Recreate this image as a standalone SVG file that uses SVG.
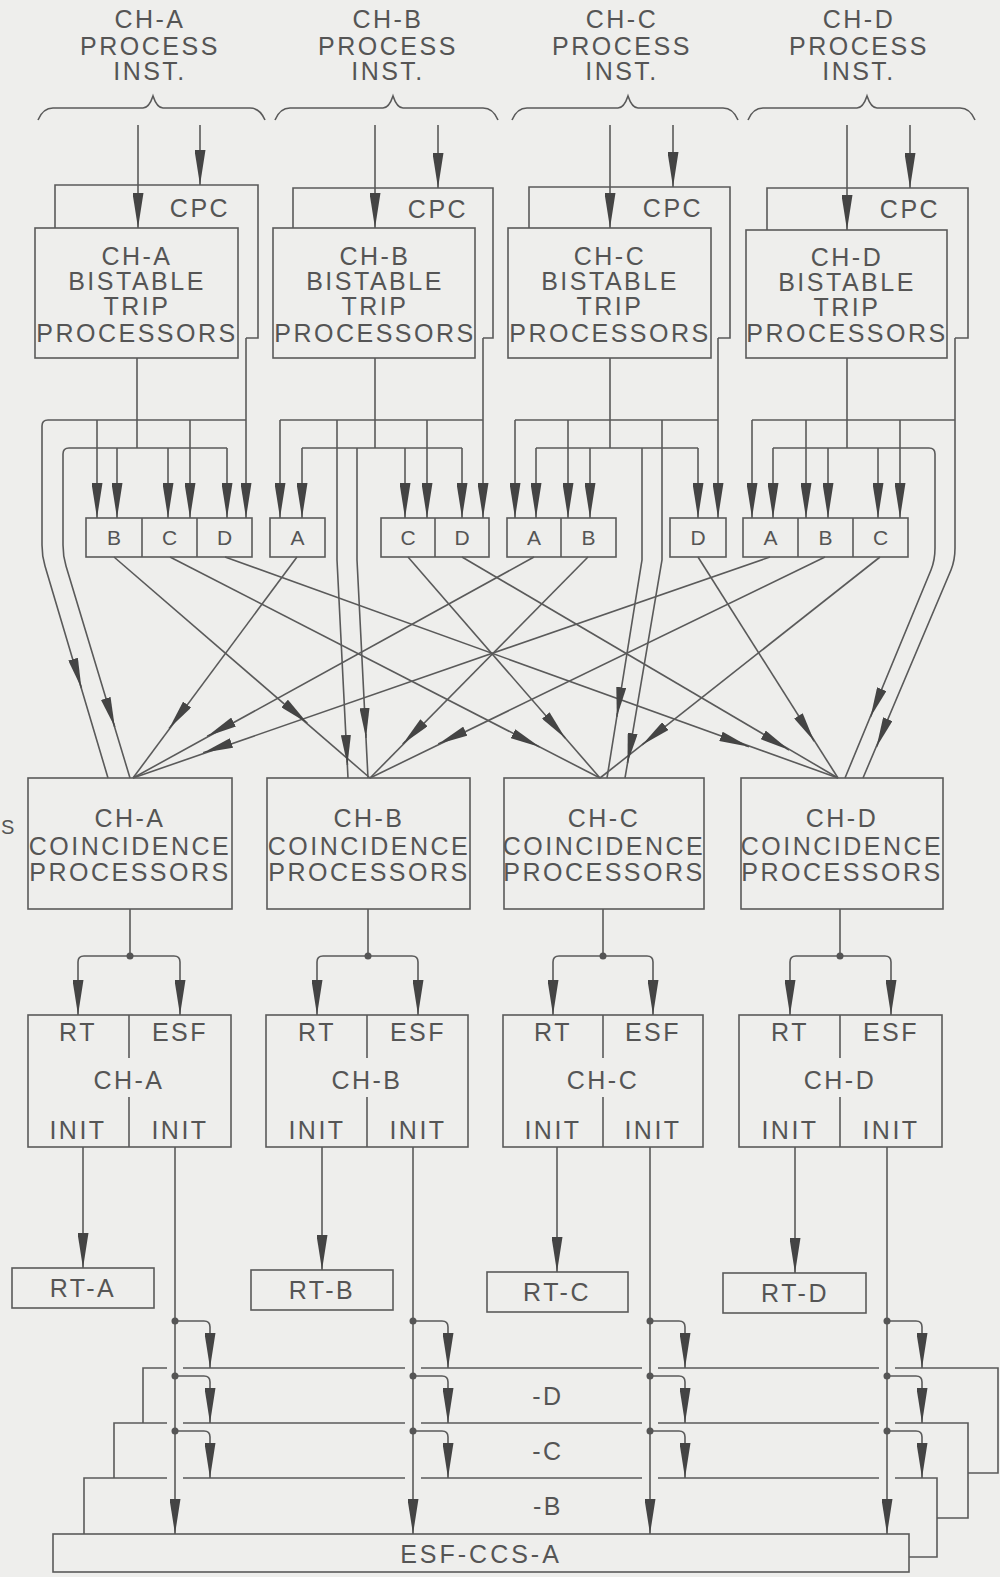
<svg xmlns="http://www.w3.org/2000/svg" width="1000" height="1577" viewBox="0 0 1000 1577">
<defs>
<style>
.ln{fill:none;stroke:#5a5a5a;stroke-width:1.6}
.bx{fill:#eeeeec;stroke:#5a5a5a;stroke-width:1.6}
.t{font-family:"Liberation Sans",Arial,sans-serif;font-size:25px;fill:#555;letter-spacing:2.5px;text-anchor:middle}
.s{font-size:21px;letter-spacing:0}
.a{marker-end:url(#ah)}
.m{marker-end:url(#am)}
.dot{fill:#555}
</style>
<marker id="ah" viewBox="0 0 35 11" refX="35" refY="5.5" markerWidth="35" markerHeight="11" markerUnits="userSpaceOnUse" orient="auto"><path d="M0,0 L35,5.5 L0,11 Z" fill="#444"/></marker>
<marker id="am" viewBox="0 0 30 10" refX="30" refY="5" markerWidth="30" markerHeight="10" markerUnits="userSpaceOnUse" orient="auto"><path d="M0,0 L30,5 L0,10 Z" fill="#444"/></marker>
</defs>
<rect width="1000" height="1577" fill="#eeeeec"/>

<g id="title-a"><text class="t" x="150" y="28">CH-A</text><text class="t" x="150" y="55">PROCESS</text><text class="t" x="150" y="80">INST.</text><path class="ln" d="M38,120 Q43,108 53,108 L143,108 Q149,108 153,96 Q157,108 163,108 L250,108 Q260,108 265,120"/></g>
<g id="title-b"><text class="t" x="388" y="28">CH-B</text><text class="t" x="388" y="55">PROCESS</text><text class="t" x="388" y="80">INST.</text><path class="ln" d="M275,120 Q280,108 290,108 L383,108 Q389,108 393,96 Q397,108 403,108 L483,108 Q493,108 498,120"/></g>
<g id="title-c"><text class="t" x="622" y="28">CH-C</text><text class="t" x="622" y="55">PROCESS</text><text class="t" x="622" y="80">INST.</text><path class="ln" d="M512,120 Q517,108 527,108 L618,108 Q624,108 628,96 Q632,108 638,108 L723,108 Q733,108 738,120"/></g>
<g id="title-d"><text class="t" x="859" y="28">CH-D</text><text class="t" x="859" y="55">PROCESS</text><text class="t" x="859" y="80">INST.</text><path class="ln" d="M748,120 Q753,108 763,108 L857,108 Q863,108 867,96 Q871,108 877,108 L960,108 Q970,108 975,120"/></g>

<g id="cpc-a"><path class="ln" d="M246,338 L258,338 L258,185 L55,185 L55,228"/><text class="t" x="200" y="217">CPC</text></g>
<g id="cpc-b"><path class="ln" d="M483,338 L493,338 L493,188 L293,188 L293,228"/><text class="t" x="438" y="218">CPC</text></g>
<g id="cpc-c"><path class="ln" d="M718,338 L730,338 L730,187 L529,187 L529,228"/><text class="t" x="673" y="217">CPC</text></g>
<g id="cpc-d"><path class="ln" d="M955,338 L968,338 L968,188 L767,188 L767,230"/><text class="t" x="910" y="218">CPC</text></g>

<g id="bistable-a"><rect class="bx" x="35" y="228" width="203" height="130"/><text class="t" x="137" y="265">CH-A</text><text class="t" x="137" y="290">BISTABLE</text><text class="t" x="137" y="315">TRIP</text><text class="t" x="137" y="342">PROCESSORS</text></g>
<g id="bistable-b"><rect class="bx" x="273" y="228" width="202" height="130"/><text class="t" x="375" y="265">CH-B</text><text class="t" x="375" y="290">BISTABLE</text><text class="t" x="375" y="315">TRIP</text><text class="t" x="375" y="342">PROCESSORS</text></g>
<g id="bistable-c"><rect class="bx" x="508" y="228" width="203" height="130"/><text class="t" x="610" y="265">CH-C</text><text class="t" x="610" y="290">BISTABLE</text><text class="t" x="610" y="315">TRIP</text><text class="t" x="610" y="342">PROCESSORS</text></g>
<g id="bistable-d"><rect class="bx" x="746" y="230" width="201" height="128"/><text class="t" x="847" y="266">CH-D</text><text class="t" x="847" y="291">BISTABLE</text><text class="t" x="847" y="316">TRIP</text><text class="t" x="847" y="342">PROCESSORS</text></g>

<g id="xfer-a"><rect class="bx" x="86" y="518" width="166" height="39"/><path class="ln" d="M142,518 V557 M197,518 V557"/><text class="t s" x="114" y="545">B</text><text class="t s" x="169.5" y="545">C</text><text class="t s" x="224.5" y="545">D</text></g>
<g id="xfer-b"><rect class="bx" x="270" y="518" width="55" height="39"/><text class="t s" x="297.5" y="545">A</text><rect class="bx" x="381" y="518" width="108" height="39"/><path class="ln" d="M435,518 V557"/><text class="t s" x="408" y="545">C</text><text class="t s" x="462" y="545">D</text></g>
<g id="xfer-c"><rect class="bx" x="507" y="518" width="109" height="39"/><path class="ln" d="M561,518 V557"/><text class="t s" x="534" y="545">A</text><text class="t s" x="588.5" y="545">B</text><rect class="bx" x="670" y="518" width="56" height="39"/><text class="t s" x="698" y="545">D</text></g>
<g id="xfer-d"><rect class="bx" x="743" y="518" width="165" height="39"/><path class="ln" d="M798,518 V557 M853,518 V557"/><text class="t s" x="770.5" y="545">A</text><text class="t s" x="825.5" y="545">B</text><text class="t s" x="880.5" y="545">C</text></g>

<g id="coinc-a"><rect class="bx" x="28" y="778" width="204" height="131"/><text class="t" x="130" y="827">CH-A</text><text class="t" x="130" y="855">COINCIDENCE</text><text class="t" x="130" y="881">PROCESSORS</text></g>
<g id="coinc-b"><rect class="bx" x="267" y="778" width="203" height="131"/><text class="t" x="369" y="827">CH-B</text><text class="t" x="369" y="855">COINCIDENCE</text><text class="t" x="369" y="881">PROCESSORS</text></g>
<g id="coinc-c"><rect class="bx" x="504" y="778" width="200" height="131"/><text class="t" x="604" y="827">CH-C</text><text class="t" x="604" y="855">COINCIDENCE</text><text class="t" x="604" y="881">PROCESSORS</text></g>
<g id="coinc-d"><rect class="bx" x="741" y="778" width="202" height="131"/><text class="t" x="842" y="827">CH-D</text><text class="t" x="842" y="855">COINCIDENCE</text><text class="t" x="842" y="881">PROCESSORS</text></g>

<g id="init-a"><rect class="bx" x="28" y="1015" width="203" height="132"/><path class="ln" d="M129,1015 V1058 M129,1097 V1147"/><text class="t" x="78" y="1041">RT</text><text class="t" x="180" y="1041">ESF</text><text class="t" x="129" y="1089">CH-A</text><text class="t" x="78" y="1139">INIT</text><text class="t" x="180" y="1139">INIT</text></g>
<g id="init-b"><rect class="bx" x="266" y="1015" width="202" height="132"/><path class="ln" d="M367,1015 V1058 M367,1097 V1147"/><text class="t" x="317" y="1041">RT</text><text class="t" x="418" y="1041">ESF</text><text class="t" x="367" y="1089">CH-B</text><text class="t" x="317" y="1139">INIT</text><text class="t" x="418" y="1139">INIT</text></g>
<g id="init-c"><rect class="bx" x="503" y="1015" width="200" height="132"/><path class="ln" d="M603,1015 V1058 M603,1097 V1147"/><text class="t" x="553" y="1041">RT</text><text class="t" x="653" y="1041">ESF</text><text class="t" x="603" y="1089">CH-C</text><text class="t" x="553" y="1139">INIT</text><text class="t" x="653" y="1139">INIT</text></g>
<g id="init-d"><rect class="bx" x="739" y="1015" width="203" height="132"/><path class="ln" d="M840,1015 V1058 M840,1097 V1147"/><text class="t" x="790" y="1041">RT</text><text class="t" x="891" y="1041">ESF</text><text class="t" x="840" y="1089">CH-D</text><text class="t" x="790" y="1139">INIT</text><text class="t" x="891" y="1139">INIT</text></g>

<g id="rt-a"><rect class="bx" x="12" y="1268" width="142" height="40"/><text class="t" x="83" y="1297">RT-A</text></g>
<g id="rt-b"><rect class="bx" x="251" y="1270" width="142" height="40"/><text class="t" x="322" y="1299">RT-B</text></g>
<g id="rt-c"><rect class="bx" x="487" y="1272" width="141" height="40"/><text class="t" x="557" y="1301">RT-C</text></g>
<g id="rt-d"><rect class="bx" x="723" y="1273" width="143" height="40"/><text class="t" x="795" y="1302">RT-D</text></g>

<g id="esfccs-d"><path class="ln" d="M143,1423 L143,1368 L167,1368 M183,1368 L405,1368 M421,1368 L642,1368 M658,1368 L879,1368 M895,1368 L998,1368 L998,1473 L968,1473"/><text class="t" x="548" y="1405">-D</text></g>
<g id="esfccs-c"><path class="ln" d="M114,1478 L114,1423 L167,1423 M183,1423 L405,1423 M421,1423 L642,1423 M658,1423 L879,1423 M895,1423 L968,1423 L968,1518 L937,1518"/><text class="t" x="548" y="1460">-C</text></g>
<g id="esfccs-b"><path class="ln" d="M84,1534 L84,1478 L167,1478 M183,1478 L405,1478 M421,1478 L642,1478 M658,1478 L879,1478 M895,1478 L937,1478 L937,1557 L909,1557"/><text class="t" x="548" y="1515">-B</text></g>
<g id="esfccs-a"><rect class="bx" x="53" y="1534" width="856" height="38"/><text class="t" x="481" y="1563" style="letter-spacing:3px">ESF-CCS-A</text></g>

<text class="t" x="1" y="834" style="text-anchor:start;font-size:20px;letter-spacing:0">S</text>

<g id="connectors">
<path class="ln a" d="M138,125 L138,228"/><path class="ln a" d="M200,125 L200,185"/>
<path class="ln a" d="M375,125 L375,228"/><path class="ln a" d="M438,125 L438,188"/>
<path class="ln a" d="M610,125 L610,228"/><path class="ln a" d="M673,125 L673,187"/>
<path class="ln a" d="M847,125 L847,230"/><path class="ln a" d="M910,125 L910,188"/>

<path class="ln a" d="M246,338 L246,518"/>
<path class="ln a" d="M483,338 L483,518"/>
<path class="ln a" d="M718,338 L718,518"/>
<path class="ln" d="M955,338 L955,548 Q955,560 951,570 L863,778"/>

<path class="ln" d="M137,358 V448 M375,358 V448 M610,358 V448 M847,358 V448"/>

<path class="ln" d="M246,420 L48,420 Q42,420 42,426 L42,545 Q42,556 45,566 L108,778"/>
<path class="ln a" d="M97,420 L97,518"/><path class="ln a" d="M190,420 L190,518"/>
<path class="ln" d="M227,448 L69,448 Q63,448 63,454 L63,545 Q63,556 66,566 L130,778"/>
<path class="ln a" d="M117,448 L117,518"/><path class="ln a" d="M168,448 L168,518"/><path class="ln a" d="M227,448 L227,518"/>

<path class="ln" d="M280,420 L483,420"/>
<path class="ln a" d="M280,420 L280,518"/><path class="ln a" d="M427,420 L427,518"/>
<path class="ln" d="M337,420 L337,560 L348,778"/>
<path class="ln" d="M302,448 L462,448"/>
<path class="ln a" d="M302,448 L302,518"/><path class="ln a" d="M405,448 L405,518"/><path class="ln a" d="M462,448 L462,518"/>
<path class="ln" d="M357,448 L357,560 L368,778"/>

<path class="ln" d="M515,420 L718,420"/>
<path class="ln a" d="M515,420 L515,518"/><path class="ln a" d="M568,420 L568,518"/>
<path class="ln" d="M662,420 L662,560 L625,778"/>
<path class="ln" d="M536,448 L698,448"/>
<path class="ln a" d="M536,448 L536,518"/><path class="ln a" d="M590,448 L590,518"/><path class="ln a" d="M698,448 L698,518"/>
<path class="ln" d="M642,448 L642,560 L607,778"/>

<path class="ln" d="M752,420 L955,420"/>
<path class="ln a" d="M752,420 L752,518"/><path class="ln a" d="M806,420 L806,518"/><path class="ln a" d="M900,420 L900,518"/>
<path class="ln" d="M773,448 L929,448 Q935,448 935,454 L935,548 Q935,560 931,570 L845,778"/>
<path class="ln a" d="M773,448 L773,518"/><path class="ln a" d="M828,448 L828,518"/><path class="ln a" d="M878,448 L878,518"/>

<path class="ln" d="M114,557 L370,778"/>
<path class="ln" d="M170,557 L600,778"/>
<path class="ln" d="M225,557 L838,778"/>
<path class="ln" d="M297,557 L133,778"/>
<path class="ln" d="M408,557 L600,778"/>
<path class="ln" d="M462,557 L838,778"/>
<path class="ln" d="M534,557 L133,778"/>
<path class="ln" d="M588,557 L370,778"/>
<path class="ln" d="M698,557 L838,778"/>
<path class="ln" d="M770,557 L133,778"/>
<path class="ln" d="M825,557 L370,778"/>
<path class="ln" d="M880,557 L600,778"/>

<path class="ln m" d="M304.3,720.5 L307.3,723.1"/>
<path class="ln m" d="M536.2,745.3 L539.8,747.1"/>
<path class="ln m" d="M745.3,745.4 L749.1,746.8"/>
<path class="ln m" d="M171.5,725.4 L169.1,728.6"/>
<path class="ln m" d="M562.8,735.2 L565.4,738.2"/>
<path class="ln m" d="M785.7,748.1 L789.1,750.1"/>
<path class="ln m" d="M210.7,734.4 L207.2,736.3"/>
<path class="ln m" d="M405.5,741.2 L402.7,744"/>
<path class="ln m" d="M812.1,737.9 L814.2,741.3"/>
<path class="ln m" d="M206.9,751.5 L203.1,752.8"/>
<path class="ln m" d="M441.8,742.3 L438.2,744"/>
<path class="ln m" d="M645.1,742.4 L642,744.9"/>

<path class="ln m" d="M80.3,684.2 L81.4,688"/>
<path class="ln m" d="M113.6,723.2 L114.8,727"/>
<path class="ln m" d="M347.2,761 L347.4,765"/>
<path class="ln m" d="M365.8,734 L366,738"/>
<path class="ln m" d="M617.4,713 L616.8,717"/>
<path class="ln m" d="M628.2,759 L627.5,763"/>
<path class="ln m" d="M872,713.3 L870.5,717"/>
<path class="ln m" d="M878,743.3 L876.5,747"/>

<path class="ln" d="M130,909 L130,956"/>
<path class="ln a" d="M130,956 L84,956 Q78,956 78,962 L78,1015"/>
<path class="ln a" d="M130,956 L174,956 Q180,956 180,962 L180,1015"/>
<path class="ln" d="M368,909 L368,956"/>
<path class="ln a" d="M368,956 L323,956 Q317,956 317,962 L317,1015"/>
<path class="ln a" d="M368,956 L412,956 Q418,956 418,962 L418,1015"/>
<path class="ln" d="M603,909 L603,956"/>
<path class="ln a" d="M603,956 L559,956 Q553,956 553,962 L553,1015"/>
<path class="ln a" d="M603,956 L647,956 Q653,956 653,962 L653,1015"/>
<path class="ln" d="M840,909 L840,956"/>
<path class="ln a" d="M840,956 L796,956 Q790,956 790,962 L790,1015"/>
<path class="ln a" d="M840,956 L885,956 Q891,956 891,962 L891,1015"/>
<circle class="dot" cx="130" cy="956" r="3.5"/><circle class="dot" cx="368" cy="956" r="3.5"/><circle class="dot" cx="603" cy="956" r="3.5"/><circle class="dot" cx="840" cy="956" r="3.5"/>

<path class="ln a" d="M83,1147 L83,1268"/>
<path class="ln a" d="M322,1147 L322,1270"/>
<path class="ln a" d="M557,1147 L557,1272"/>
<path class="ln a" d="M795,1147 L795,1273"/>

<path class="ln a" d="M175,1147 L175,1534"/>
<path class="ln a" d="M413,1147 L413,1534"/>
<path class="ln a" d="M650,1147 L650,1534"/>
<path class="ln a" d="M887,1147 L887,1534"/>

<path class="ln a" d="M175,1321 L204,1321 Q210,1321 210,1327 L210,1368"/>
<path class="ln a" d="M175,1376 L204,1376 Q210,1376 210,1382 L210,1423"/>
<path class="ln a" d="M175,1431 L204,1431 Q210,1431 210,1437 L210,1478"/>
<path class="ln a" d="M413,1321 L442,1321 Q448,1321 448,1327 L448,1368"/>
<path class="ln a" d="M413,1376 L442,1376 Q448,1376 448,1382 L448,1423"/>
<path class="ln a" d="M413,1431 L442,1431 Q448,1431 448,1437 L448,1478"/>
<path class="ln a" d="M650,1321 L679,1321 Q685,1321 685,1327 L685,1368"/>
<path class="ln a" d="M650,1376 L679,1376 Q685,1376 685,1382 L685,1423"/>
<path class="ln a" d="M650,1431 L679,1431 Q685,1431 685,1437 L685,1478"/>
<path class="ln a" d="M887,1321 L916,1321 Q922,1321 922,1327 L922,1368"/>
<path class="ln a" d="M887,1376 L916,1376 Q922,1376 922,1382 L922,1423"/>
<path class="ln a" d="M887,1431 L916,1431 Q922,1431 922,1437 L922,1478"/>
<circle class="dot" cx="175" cy="1321" r="3.5"/><circle class="dot" cx="175" cy="1376" r="3.5"/><circle class="dot" cx="175" cy="1431" r="3.5"/>
<circle class="dot" cx="413" cy="1321" r="3.5"/><circle class="dot" cx="413" cy="1376" r="3.5"/><circle class="dot" cx="413" cy="1431" r="3.5"/>
<circle class="dot" cx="650" cy="1321" r="3.5"/><circle class="dot" cx="650" cy="1376" r="3.5"/><circle class="dot" cx="650" cy="1431" r="3.5"/>
<circle class="dot" cx="887" cy="1321" r="3.5"/><circle class="dot" cx="887" cy="1376" r="3.5"/><circle class="dot" cx="887" cy="1431" r="3.5"/>
</g>
</svg>
